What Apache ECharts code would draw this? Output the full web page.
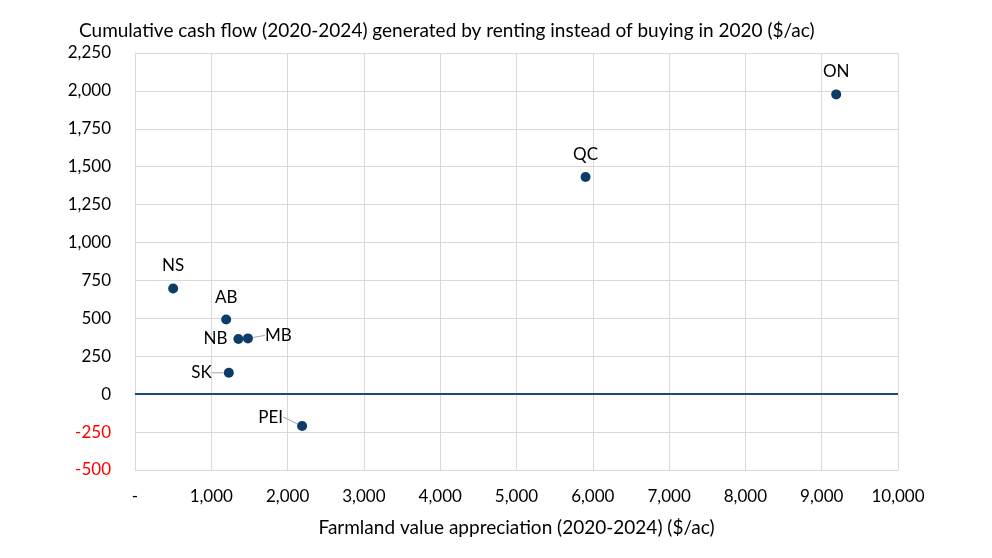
<!DOCTYPE html>
<html>
<head>
<meta charset="utf-8">
<script src="https://cdn.jsdelivr.net/npm/echarts@6/dist/echarts.min.js"></script>
<style>
  html, body { margin: 0; padding: 0; background: #fff; }
  #chart { width: 992px; height: 558px; }
</style>
</head>
<body>
<div id="chart"></div>
<script>
// province labels, x = farmland value appreciation, y = cumulative cash flow ($/ac)
const provinces = ['ON', 'QC', 'NS', 'AB', 'NB', 'MB', 'SK', 'PEI'];
const appreciation = [9190, 5905, 500, 1195, 1355, 1480, 1230, 2190];
const cashFlow = [1977, 1432, 697, 492, 364, 368, 141, -210];

const xTicks = [0, 1000, 2000, 3000, 4000, 5000, 6000, 7000, 8000, 9000, 10000];
const yTicks = [-500, -250, 0, 250, 500, 750, 1000, 1250, 1500, 1750, 2000, 2250];

const FONT = 'Lato';
const GRID_COLOR = '#d9d9d9';

// where each province label sits relative to its dot
const labelPlace = {
  ON: {position: 'top'},
  QC: {position: 'top'},
  NS: {position: 'top'},
  AB: {position: 'top'},
  NB: {position: 'left', distance: 6},
  MB: {position: 'right', distance: 12, dy: -3, line: true},
  SK: {position: 'left', distance: 12, line: true},
  PEI: {position: 'left', distance: 14, dy: -9, line: true}
};

const fmt = v => v.toLocaleString('en-US');

const points = provinces.map((p, i) => {
  const place = labelPlace[p];
  return {
    name: p,
    value: [appreciation[i], cashFlow[i]],
    label: {position: place.position, distance: place.distance || 9},
    labelLine: {show: !!place.line}
  };
});

const chart = echarts.init(document.getElementById('chart'));
chart.setOption({
  animation: false,
  title: {
    text: 'Cumulative cash flow (2020-2024) generated by renting instead of buying in 2020 ($/ac)',
    left: 74,
    top: 16,
    textStyle: {fontFamily: FONT, fontSize: 19, fontWeight: 'normal', color: '#000'}
  },
  grid: {left: 135, right: 94, top: 53, bottom: 88},
  xAxis: {
    type: 'value',
    min: xTicks[0],
    max: xTicks[xTicks.length - 1],
    interval: 1000,
    name: 'Farmland value appreciation (2020-2024) ($/ac)',
    nameLocation: 'middle',
    nameGap: 48,
    nameTextStyle: {fontFamily: FONT, fontSize: 19, color: '#000'},
    axisLine: {show: true, lineStyle: {color: GRID_COLOR, width: 1}},
    axisTick: {show: false},
    splitLine: {show: true, lineStyle: {color: GRID_COLOR, width: 1}},
    axisLabel: {
      margin: 18,
      fontFamily: FONT, fontSize: 17, color: '#000',
      formatter: v => (v === 0 ? '-' : fmt(v))
    }
  },
  yAxis: {
    type: 'value',
    min: yTicks[0],
    max: yTicks[yTicks.length - 1],
    interval: 250,
    axisLine: {show: true, lineStyle: {color: GRID_COLOR, width: 1}},
    axisTick: {show: false},
    splitLine: {show: true, lineStyle: {color: GRID_COLOR, width: 1}},
    axisLabel: {
      margin: 24,
      fontFamily: FONT, fontSize: 17, color: '#000',
      formatter: v => (v < 0 ? '{neg|' + fmt(v) + '}' : fmt(v)),
      rich: {neg: {color: '#ff0000', fontFamily: FONT, fontSize: 17}}
    }
  },
  series: [{
    type: 'scatter',
    symbolSize: 10,
    itemStyle: {color: '#0d3c68', opacity: 1},
    data: points,
    label: {
      show: true,
      formatter: '{b}',
      fontFamily: FONT, fontSize: 17, color: '#000'
    },
    labelLine: {lineStyle: {color: '#a6a6a6', width: 1}},
    labelLayout: params => {
      const place = labelPlace[provinces[params.dataIndex]];
      return {dy: place.dy || 0};
    },
    markLine: {
      silent: true,
      symbol: 'none',
      label: {show: false},
      lineStyle: {color: '#1b4a78', width: 2, type: 'solid'},
      data: [{yAxis: 0}]
    }
  }]
});
</script>
</body>
</html>
